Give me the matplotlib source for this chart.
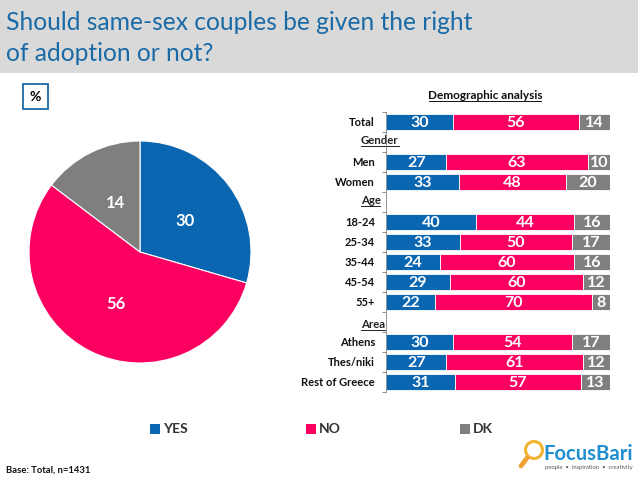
import matplotlib
matplotlib.use("Agg")
import matplotlib.pyplot as plt
from matplotlib.patches import Rectangle, Circle

plt.rcParams['font.family'] = ['Lato', 'DejaVu Sans']

W, H = 638, 479
BLUE, PINK, GREY = '#0b66b2', '#fb0060', '#7f7f7f'
TITLE_BLUE = '#1a6aa6'

title_lines = ["Should same-sex couples be given the right", "of adoption or not?"]
series_names = ["YES", "NO", "DK"]
pie_labels = [30, 56, 14]
pie_shares = [29.5, 55.8, 14.7]
categories = ["Total", "", "Men", "Women", "", "18-24", "25-34", "35-44", "45-54", "55+", "", "Athens", "Thes/niki", "Rest of Greece"]
yes_values = [30, None, 27, 33, None, 40, 33, 24, 29, 22, None, 30, 27, 31]
no_values = [56, None, 63, 48, None, 44, 50, 60, 60, 70, None, 54, 61, 57]
dk_values = [14, None, 10, 20, None, 16, 17, 16, 12, 8, None, 17, 12, 13]
group_labels = ["Gender", "Age", "Area"]


def px_axes(fig, x0, y0, x1, y1, **kw):
    return fig.add_axes([x0 / W, 1 - y1 / H, (x1 - x0) / W, (y1 - y0) / H], **kw)


fig = plt.figure(figsize=(W / 100, H / 100), dpi=100, facecolor='white')
bg = px_axes(fig, 0, 0, W, H)
bg.set_xlim(0, W)
bg.set_ylim(H, 0)
bg.axis('off')

# header
bg.add_patch(Rectangle((0, 0), W, 73, fc='#d9d9d9', ec='none'))
for line, y in zip(title_lines, [22, 53]):
    bg.text(6, y, line, fontsize=17.7, color=TITLE_BLUE, va='center', ha='left')
bg.add_patch(Rectangle((22.5, 83.5), 25, 25, fc='white', ec=TITLE_BLUE, lw=1.3))
bg.text(35, 96.5, "%", fontsize=10, fontweight='bold', color='black', ha='center', va='center')

# pie
pie_ax = px_axes(fig, 29, 141, 251, 363)
wedges, _ = pie_ax.pie(pie_shares, colors=[BLUE, PINK, GREY], startangle=90, counterclock=False,
                       radius=1.0, wedgeprops=dict(edgecolor='white', linewidth=0.8))
pie_ax.set_xlim(-1, 1)
pie_ax.set_ylim(-1, 1)
for (x, y), v in zip([(0.41, 0.28), (-0.22, -0.47), (-0.22, 0.44)], pie_labels):
    pie_ax.text(x, y, str(v), color='white', fontsize=12, fontweight='bold', ha='center', va='center')

# stacked bars
ax = px_axes(fig, 386, 112, 610, 392)
ax.patch.set_alpha(0)
rows = range(len(categories))
for i in rows:
    if yes_values[i] is None:
        continue
    left = 0
    total = yes_values[i] + no_values[i] + dk_values[i]
    for v, c in zip((yes_values[i], no_values[i], dk_values[i]), (BLUE, PINK, GREY)):
        share = v / total * 100
        ax.barh(i, share, left=left, height=0.81, color=c, edgecolor='white', linewidth=0.6)
        ax.text(left + share / 2, i + 0.03, str(v), color='white', fontsize=11.5, fontweight='bold',
                ha='center', va='center')
        left += share
ax.set_xlim(0, 100)
ax.set_ylim(len(categories) - 0.5, -0.5)
ax.set_yticks([i - 0.5 for i in rows] + [len(categories) - 0.5])
ax.set_yticklabels([])
ax.set_xticks([])
ax.tick_params(axis='y', length=3, width=0.6, color='#808080')
for s in ('top', 'right', 'bottom'):
    ax.spines[s].set_visible(False)
ax.spines['left'].set_color('#808080')
ax.spines['left'].set_linewidth(0.6)
for i, c in enumerate(categories):
    if c:
        ax.annotate(c, xy=(0, i), xycoords=('axes fraction', 'data'), xytext=(-11, 0),
                    textcoords='offset pixels', ha='right', va='center', fontsize=8,
                    fontweight='bold', color='#111111')
for g, y, x1, uy in zip(group_labels, (140, 200, 325), (399, 380, 385), (145.5, 205.5, 330)):
    bg.text(361, y, g, ha='left', va='center', fontsize=8.2, fontweight='bold', color='#222222')
    bg.plot([361, x1], [uy, uy], color='#222222', lw=0.7)
bg.text(485, 95, "Demographic analysis", fontsize=8.5, fontweight='bold', color='#111111', ha='center', va='center')
bg.plot([429, 541], [101, 101], color='#111111', lw=0.7)

# legend
legend_x = [150, 306, 460]
for name, x, c in zip(series_names, legend_x, [BLUE, PINK, GREY]):
    bg.add_patch(Rectangle((x, 424), 10, 10, fc=c, ec='none'))
    bg.text(x + 13, 429, name, fontsize=10, fontweight='bold', color='#333333', ha='left', va='center')

bg.text(6, 470, "Base: Total, n=1431", fontsize=6.8, fontweight='bold', color='#111111', ha='left', va='center')

# logo
bg.plot([521, 527], [466, 458], color='#f0a030', lw=3.4, solid_capstyle='round')
bg.add_patch(Circle((534, 450), 8.5, fc='white', ec='#f2b233', lw=2.2))
bg.text(543, 454, "FocusBari", fontsize=14.6, fontweight='bold', color='#1f8fd0', ha='left', va='center')
bg.text(545, 467, "people  •  inspiration  •  creativity", fontsize=4.2, color='#555555', ha='left', va='center')

fig.savefig('out.png', dpi=100)
